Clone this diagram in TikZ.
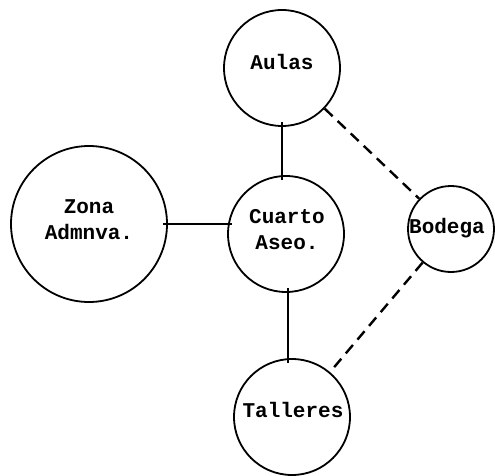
\documentclass[tikz,border=0pt]{standalone}
\usepackage{fontspec}
\setmonofont{Liberation Mono}
\usetikzlibrary{arrows,shapes}

\begin{document}
\begin{tikzpicture}[x=1pt,y=-1pt,
  zona/.style={draw,circle,line width=1.8pt,inner sep=0pt,align=center,
    font=\ttfamily\bfseries\fontsize{21}{26}\selectfont},
  liga/.style={line width=2.4pt,shorten <=-5pt,shorten >=-5pt},
  ligad/.style={line width=2.4pt,dash pattern=on 11pt off 7pt}]
\useasboundingbox (0,0) rectangle (495,476);
\draw
(282,68) node[zona,minimum size=116pt](aulas){}
(89,224) node[zona,minimum size=156pt](admin){}
(286,234) node[zona,minimum size=116pt](aseo){}
(451,229) node[zona,minimum size=86pt](bodega){}
(292,417) node[zona,minimum size=116pt](talleres){}
;
%textos
\draw (282,62)node[zona,draw=none](t1){Aulas}
(89,220)node[zona,draw=none](t2){Zona\\Admnva.}
(287,230)node[zona,draw=none](t3){Cuarto\\Aseo.}
(447,228)node[zona,draw=none](t4){Bodega}
(293,410)node[zona,draw=none](t5){Talleres};
%lineas
\draw[liga] (aulas.south) -- (aulas.south |- aseo.north);
\draw[liga] (admin.east) -- (admin.east -| aseo.west);
\draw[liga] (aseo.south) ++(2,0) coordinate (c1) -- (c1 |- talleres.north);
\draw[ligad] (aulas) -- (bodega);
\draw[ligad] (bodega) -- (talleres);
\end{tikzpicture}
\end{document}
